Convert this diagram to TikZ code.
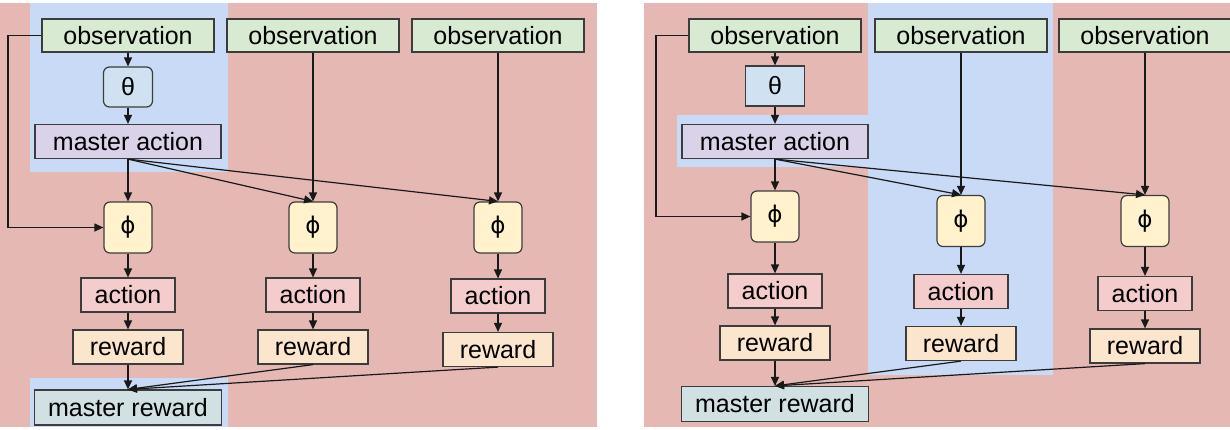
\documentclass[tikz,border=0pt]{standalone}
\usepackage{fontspec}
\setmainfont{Liberation Sans}
\newfontfamily\phifont{DejaVu Sans}
\usetikzlibrary{arrows.meta}

\definecolor{bgpink}{RGB}{230,184,180}
\definecolor{bgblue}{RGB}{201,218,246}
\definecolor{obsgreen}{RGB}{217,234,211}
\definecolor{thetablue}{RGB}{208,226,242}
\definecolor{mastpurple}{RGB}{217,210,233}
\definecolor{phiyellow}{RGB}{255,242,204}
\definecolor{actpink}{RGB}{244,204,204}
\definecolor{reworange}{RGB}{252,229,205}
\definecolor{mrewteal}{RGB}{208,224,227}
\definecolor{edgegray}{RGB}{60,60,60}

\begin{document}
\begin{tikzpicture}[x=0.5pt, y=-0.5pt,
    box/.style={draw=edgegray, line width=0.6pt, inner sep=0pt,
        font=\fontsize{12.5}{14}\selectfont},
    obsbox/.style={box, fill=obsgreen, minimum width=86pt, minimum height=16.5pt},
    thetabox/.style={box, fill=thetablue, minimum width=24.5pt, minimum height=20pt},
    mastbox/.style={box, fill=mastpurple, minimum width=93pt, minimum height=17pt},
    phibox/.style={box, fill=phiyellow, rounded corners=3pt, minimum width=24pt, minimum height=25.5pt,
        font=\phifont\fontsize{11.5}{14}\selectfont},
    actbox/.style={box, fill=actpink, minimum width=47pt, minimum height=17pt},
    rewbox/.style={box, fill=reworange, minimum width=55pt, minimum height=17pt},
    mrewbox/.style={box, fill=mrewteal, minimum width=93.5pt, minimum height=17.5pt},
    arr/.style={-{Triangle[length=4.5pt, width=4pt]}, line width=0.6pt, black!90}]
    \useasboundingbox (0,0) rectangle (1230,429);
    \fill[white] (0,0) rectangle (1230,429);

    % Left panel: backgrounds
    \fill[bgpink] (0,3) rectangle (597,427);
    \fill[bgblue] (30,3) rectangle (228,172);
    \fill[bgblue] (30,378) rectangle (228,427);

    % Left panel: nodes
    \node[obsbox] (obsA) at (128,35.5) {observation};
    \node[obsbox] (obsB) at (313,35.5) {observation};
    \node[obsbox] (obsC) at (498,35.5) {observation};
    \node[thetabox, rounded corners=3pt] (thetaL) at (128,87) {θ};
    \node[mastbox] (mastL) at (128,141.5) {master action};
    \node[phibox] (phiA) at (128,227.5) {ϕ};
    \node[phibox] (phiB) at (313,227.5) {ϕ};
    \node[phibox] (phiC) at (498,227.5) {ϕ};
    \node[actbox] (actA) at (128,295) {action};
    \node[actbox] (actB) at (313,295) {action};
    \node[actbox] (actC) at (498,296) {action};
    \node[rewbox] (rewA) at (128,347) {reward};
    \node[rewbox] (rewB) at (313,347) {reward};
    \node[rewbox] (rewC) at (498,349.5) {reward};
    \node[mrewbox] (mrewL) at (128,407.5) {master reward};
    \coordinate (bendL) at (8,35.5);

    % Left panel: connectors
    \draw[arr] (obsA) -- (thetaL);
    \draw[arr] (thetaL) -- (mastL);
    \draw[arr] (obsA.west) -- (bendL) |- (phiA.west);
    \draw[arr] (mastL.south) -- (phiA.north);
    \draw[arr] (mastL.south) -- (phiB.north);
    \draw[arr] (mastL.south) -- (phiC.north);
    \draw[arr] (obsB) -- (phiB);
    \draw[arr] (obsC) -- (phiC);
    \foreach \c in {A,B,C} {
        \draw[arr] (phi\c) -- (act\c);
        \draw[arr] (act\c) -- (rew\c);
        \draw[arr] (rew\c.south) -- (mrewL.north);
    }

    % Right panel: backgrounds
    \fill[bgpink] (644,3) rectangle (1230,427);
    \fill[bgblue] (868,3) rectangle (1053,375);
    \fill[bgblue] (677,115) rectangle (868,167);

    % Right panel: nodes
    \node[obsbox] (obsD) at (775,35.5) {observation};
    \node[obsbox] (obsE) at (961,35.5) {observation};
    \node[obsbox] (obsF) at (1145,35.5) {observation};
    \node[thetabox, minimum width=29.5pt] (thetaR) at (775,86) {θ};
    \node[mastbox] (mastR) at (775,141.5) {master action};
    \node[phibox] (phiD) at (775,216.5) {ϕ};
    \node[phibox] (phiE) at (961,221) {ϕ};
    \node[phibox] (phiF) at (1145,221) {ϕ};
    \node[actbox] (actD) at (775,291) {action};
    \node[actbox] (actE) at (961,291.5) {action};
    \node[actbox] (actF) at (1145,293.5) {action};
    \node[rewbox] (rewD) at (775,343) {reward};
    \node[rewbox] (rewE) at (961,343.5) {reward};
    \node[rewbox] (rewF) at (1145,346) {reward};
    \node[mrewbox] (mrewR) at (775,404) {master reward};
    \coordinate (bendR) at (656,35.5);

    % Right panel: connectors
    \draw[arr] (obsD) -- (thetaR);
    \draw[arr] (thetaR) -- (mastR);
    \draw[arr] (obsD.west) -- (bendR) |- (phiD.west);
    \draw[arr] (mastR.south) -- (phiD.north);
    \draw[arr] (mastR.south) -- (phiE.north);
    \draw[arr] (mastR.south) -- (phiF.north);
    \draw[arr] (obsE) -- (phiE);
    \draw[arr] (obsF) -- (phiF);
    \foreach \c in {D,E,F} {
        \draw[arr] (phi\c) -- (act\c);
        \draw[arr] (act\c) -- (rew\c);
        \draw[arr] (rew\c.south) -- (mrewR.north);
    }
\end{tikzpicture}
\end{document}
